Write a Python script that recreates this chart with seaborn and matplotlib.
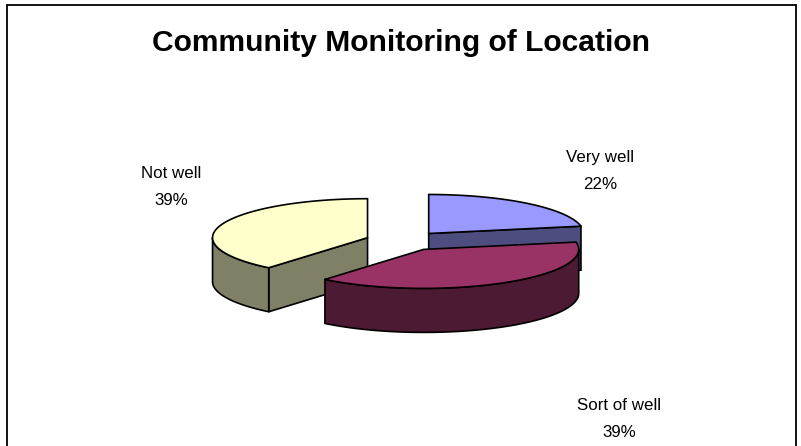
import numpy as np
import seaborn as sns
import matplotlib
matplotlib.use("Agg")
import matplotlib.pyplot as plt
from matplotlib.patches import Polygon

labels = ["Very well", "Sort of well", "Not well"]
values = [22, 39, 39]
pct_text = ["22%", "39%", "39%"]
top_colors = ["#9999FF", "#993366", "#FFFFCC"]
side_colors = ["#4D4D80", "#4D1A33", "#808066"]

# layout (pixel space)
cx, cy = 404, 241
rx, ry = 155, 39
depth = 44
explode = 0.25
label_xy = [(600, 171), (619, 419), (171, 187)]

sns.set_theme(style="white")
plt.rcParams["font.family"] = ["Liberation Sans", "DejaVu Sans"]
plt.rcParams["text.color"] = "black"

fig = plt.figure(figsize=(8.01, 4.46), dpi=100)
ax = fig.add_axes([0, 0, 1, 1])
ax.set_xlim(0, 801)
ax.set_ylim(446, 0)
ax.axis("off")

# chart frame (bottom edge cut off in the reference)
ax.plot([7, 7, 796, 796], [446, 5, 5, 446], color="black", lw=1.3,
        solid_joinstyle="miter")

ax.text(400.5, 43, "Community Monitoring of Location", ha="center",
        va="center", fontsize=21.6, fontweight="bold")


def rim(ox, oy, t):
    t = np.radians(t)
    return ox + rx * np.sin(t), oy - ry * np.cos(t)


fracs = np.array(values) / np.sum(values)
ends = np.cumsum(fracs) * 360
starts = ends - fracs * 360
mids = (starts + ends) / 2
order = np.argsort(-np.cos(np.radians(mids)))

lw = 1.2
z = 2
for i in order:
    t0, t1, b = starts[i], ends[i], mids[i]
    ox = cx + explode * rx * np.sin(np.radians(b))
    oy = cy - explode * ry * np.cos(np.radians(b))
    # radial walls facing the viewer
    for t, normal in ((t0, t0 - 90), (t1, t1 + 90)):
        if np.cos(np.radians(normal)) < -1e-6:
            px, py = rim(ox, oy, t)
            quad = [(ox, oy), (px, py), (px, py + depth), (ox, oy + depth)]
            ax.add_patch(Polygon(quad, closed=True, fc=side_colors[i],
                                 ec="black", lw=lw, zorder=z))
            z += 1
    # outer wall (front half only)
    a0, a1 = max(t0, 90), min(t1, 270)
    if a1 > a0:
        ts = np.linspace(a0, a1, 80)
        xs, ys = rim(ox, oy, ts)
        pts = list(zip(xs, ys)) + list(zip(xs[::-1], ys[::-1] + depth))
        ax.add_patch(Polygon(pts, closed=True, fc=side_colors[i],
                             ec="black", lw=lw, zorder=z))
        z += 1
    # top face
    ts = np.linspace(t0, t1, 120)
    xs, ys = rim(ox, oy, ts)
    pts = [(ox, oy)] + list(zip(xs, ys))
    ax.add_patch(Polygon(pts, closed=True, fc=top_colors[i],
                         ec="black", lw=lw, zorder=z))
    z += 1

for i in range(len(labels)):
    lx, ly = label_xy[i]
    ax.text(lx, ly, labels[i] + "\n" + pct_text[i], ha="center", va="center",
            fontsize=12.2, linespacing=1.95)

fig.savefig("out.png", dpi=100)
